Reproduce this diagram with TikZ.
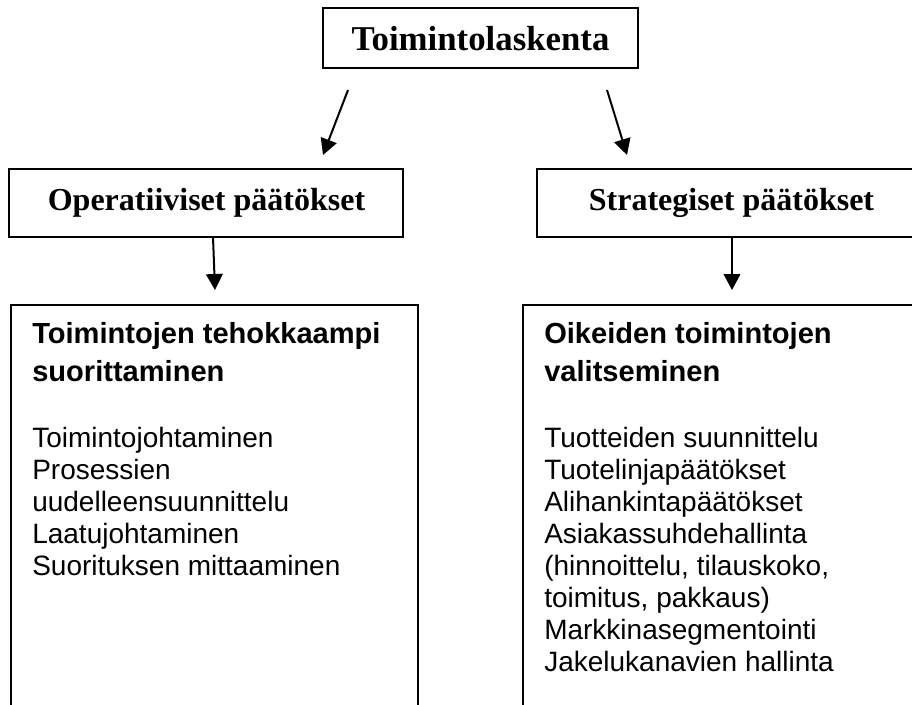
\documentclass[tikz,border=0pt]{standalone}
\usepackage{fontspec}
\setmainfont{Liberation Serif}
\newfontfamily\arialfont{Liberation Sans}
\usetikzlibrary{arrows.meta}
\begin{document}
\begin{tikzpicture}[x=0.75pt,y=-0.75pt,
  boxline/.style={draw=black,line width=1.5pt,inner sep=0pt},
  conn/.style={draw=black,line width=1.5pt,-{Triangle[length=12pt,width=12.5pt]}},
  toptitle/.style={inner sep=0pt,anchor=base,font=\fontsize{26.1}{30}\selectfont\bfseries},
  midtitle/.style={inner sep=0pt,anchor=base,font=\fontsize{24}{28}\selectfont\bfseries},
  boldline/.style={inner sep=0pt,anchor=base west,font=\arialfont\fontsize{21.8}{26}\selectfont\bfseries},
  plainline/.style={inner sep=0pt,anchor=base west,font=\arialfont\fontsize{21}{24}\selectfont}]
\useasboundingbox (0,0) rectangle (912,704);
\clip (0,0) rectangle (912,704);
\fill[white] (0,0) rectangle (912,704);
% boxes
\node[boxline,line width=1.8pt,minimum width=236.25pt,minimum height=45pt] (top) at (480.5,38) {};
\node[boxline,minimum width=295.5pt,minimum height=51pt] (opb) at (206,203) {};
\node[boxline,minimum width=291.75pt,minimum height=51pt] (stb) at (731.5,203) {};
\node[boxline,minimum width=305.25pt,minimum height=311.25pt] (leftbox) at (214.5,512.5) {};
\node[boxline,minimum width=305.25pt,minimum height=311.25pt] (rightbox) at (726.5,512.5) {};
% titles
\node[toptitle] (toptext) at (480.5,50) {Toimintolaskenta};
\node[midtitle] (optext) at (206.5,210) {Operatiiviset päätökset};
\node[midtitle] (sttext) at (731.5,210) {Strategiset päätökset};
% left box text
\node[boldline] (lb1) at (32,343) {Toimintojen tehokkaampi};
\node[boldline] (lb2) at (32,381) {suorittaminen};
\node[plainline] (ll1) at (32,447) {Toimintojohtaminen};
\node[plainline] (ll2) at (32,479) {Prosessien};
\node[plainline] (ll3) at (32,511) {uudelleensuunnittelu};
\node[plainline] (ll4) at (32,543) {Laatujohtaminen};
\node[plainline] (ll5) at (32,575) {Suorituksen mittaaminen};
% right box text
\node[boldline] (rb1) at (544,343) {Oikeiden toimintojen};
\node[boldline] (rb2) at (544,381) {valitseminen};
\node[plainline] (rl1) at (544,447) {Tuotteiden suunnittelu};
\node[plainline] (rl2) at (544,479) {Tuotelinjapäätökset};
\node[plainline] (rl3) at (544,511) {Alihankintapäätökset};
\node[plainline] (rl4) at (544,543) {Asiakassuhdehallinta};
\node[plainline] (rl5) at (544,575) {(hinnoittelu, tilauskoko,};
\node[plainline] (rl6) at (544,607) {toimitus, pakkaus)};
\node[plainline] (rl7) at (544,639) {Markkinasegmentointi};
\node[plainline] (rl8) at (544,671) {Jakelukanavien hallinta};
% arrow end points
\coordinate (a1s) at (348,90);
\coordinate (a1e) at (323,155);
\coordinate (a2s) at (607,90);
\coordinate (a2e) at (627,155);
\coordinate (a3s) at (213,237);
\coordinate (a3e) at (215,290);
\coordinate (a4s) at (732,237);
\coordinate (a4e) at (732,290);
\draw[conn] (a1s) -- (a1e);
\draw[conn] (a2s) -- (a2e);
\draw[conn] (a3s) -- (a3e);
\draw[conn] (a4s) -- (a4e);
\end{tikzpicture}
\end{document}
